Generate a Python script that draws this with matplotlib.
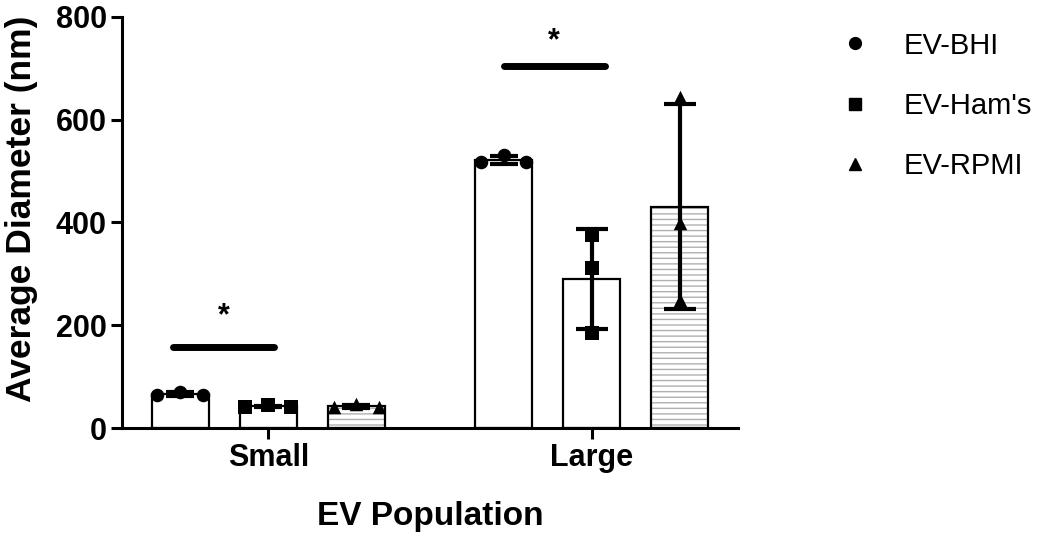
import numpy as np
import matplotlib
matplotlib.use("Agg")
import matplotlib.pyplot as plt
from matplotlib.lines import Line2D

# ---------------- data ----------------
populations = ["Small", "Large"]
media = ["EV-BHI", "EV-Ham's", "EV-RPMI"]
markers = ["o", "s", "^"]

# replicate points per medium, per population (Small, Large)
bhi_points = [[64, 70, 64], [517, 531, 517]]
hams_points = [[41, 44, 41], [375, 311, 185]]
rpmi_points = [[40, 46, 40], [644, 399, 249]]
all_points = [bhi_points, hams_points, rpmi_points]

# significance bar heights (Small, Large)
sig_heights = [158, 704]
y_ticks = [0, 200, 400, 600, 800]

# ---------------- style ----------------
plt.rcParams["font.family"] = ["Liberation Sans", "DejaVu Sans"]
plt.rcParams["hatch.linewidth"] = 1.0
FS = 22
LFS = 24

fig = plt.figure(figsize=(10.5, 5.38), dpi=100)
ax = fig.add_axes([122 / 1050, 1 - 428 / 538, (738 - 122) / 1050, 411 / 538])

group_gap = 3.67
bar_w = 0.65
spread = [-0.26, 0, 0.26]
stacked = [0, 0, 0]

for gi, pop in enumerate(populations):
    for mi in range(3):
        x = gi * group_gap + mi
        pts = np.array(all_points[mi][gi], dtype=float)
        mean = pts.mean()
        sd = pts.std(ddof=1)
        if mi == 2:
            ax.bar(x, mean, width=bar_w, color="white", edgecolor="#b0b0b0",
                   hatch="---", linewidth=0, zorder=1)
            ax.bar(x, mean, width=bar_w, color="none", edgecolor="black",
                   linewidth=1.6, zorder=2)
        else:
            ax.bar(x, mean, width=bar_w, color="white", edgecolor="black",
                   linewidth=1.6, zorder=2)
        cap = 11.5 if (gi == 1 and mi > 0) else 10
        ax.errorbar(x, mean, yerr=sd, fmt="none", ecolor="black",
                    elinewidth=3, capsize=cap, capthick=3, zorder=3)
        offs = spread if (gi == 0 or mi == 0) else stacked
        ax.scatter(x + np.array(offs), pts, marker=markers[mi], s=95,
                   color="black", zorder=4, linewidths=0)

# significance bars and stars
star_gap = [30, 20]
for gi, h in enumerate(sig_heights):
    x0 = gi * group_gap + (-0.08 if gi == 0 else 0.0)
    x1 = gi * group_gap + (1.06 if gi == 0 else 1.15)
    ax.plot([x0, x1], [h, h], color="black", lw=5, solid_capstyle="round",
            zorder=5)
    ax.text((x0 + x1) / 2, h + star_gap[gi], "*", ha="center", va="bottom",
            fontsize=FS, fontweight="bold")

ax.set_xlim(-0.66, 2 + group_gap + 0.66)
ax.set_ylim(0, 800)
ax.set_yticks(y_ticks)
ax.set_xticks([1 + gi * group_gap for gi in range(len(populations))])
ax.set_xticklabels(populations)
for lab in ax.get_xticklabels() + ax.get_yticklabels():
    lab.set_fontsize(FS)
    lab.set_fontweight("bold")

for s in ["top", "right"]:
    ax.spines[s].set_visible(False)
for s in ["left", "bottom"]:
    ax.spines[s].set_linewidth(2.2)
ax.tick_params(axis="both", width=2.2, length=8, pad=3)

fig.text(22 / 1050, 1 - 209 / 538, "Average Diameter (nm)", rotation=90,
         ha="center", va="center", fontsize=25.5, fontweight="bold")
ax.set_xlabel("EV Population", fontsize=LFS, fontweight="bold", labelpad=20)

handles = [Line2D([], [], marker=m, linestyle="none", color="black",
                  markersize=8.5) for m in markers]
fig.legend(handles, media, loc="upper left", bbox_to_anchor=(800 / 1050, 0.99),
           frameon=False, fontsize=21, labelspacing=1.1, handletextpad=0.65)

fig.savefig("out.png", dpi=100)
